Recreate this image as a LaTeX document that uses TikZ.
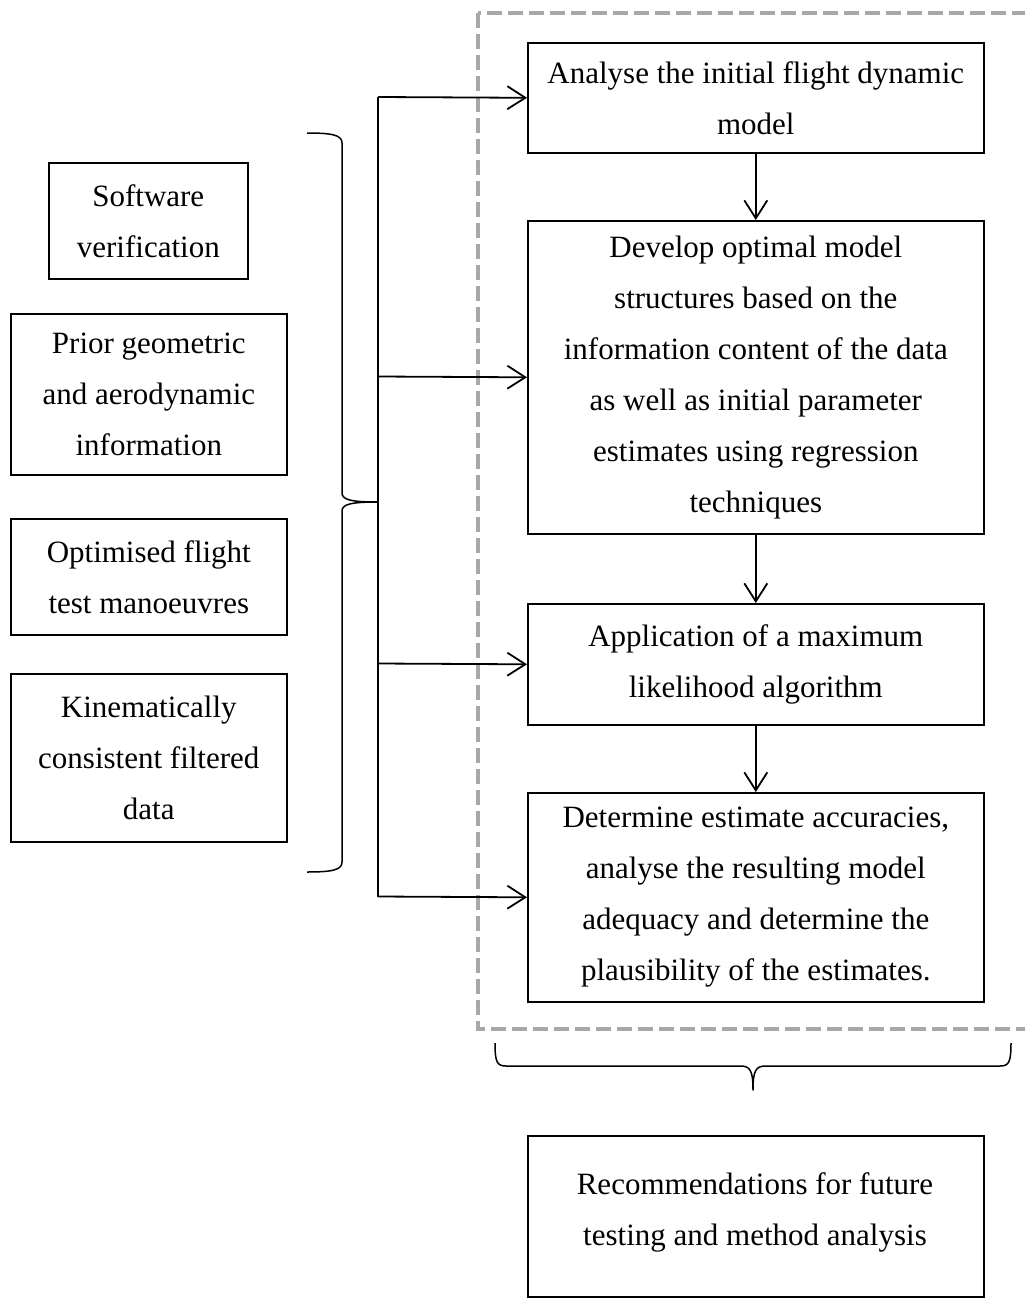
\documentclass[tikz,border=0pt]{standalone}
\usepackage{fontspec}
\setmainfont{Liberation Serif}
\usetikzlibrary{arrows.meta}
\definecolor{dashgray}{HTML}{A8A8A8}
\begin{document}
\begin{tikzpicture}[x=1pt,y=-1pt,
  txt/.style={inner sep=0pt, align=center, font=\fontsize{31}{51}\selectfont},
  box/.style={txt, draw, line width=1.6pt, anchor=north west},
  arr/.style={line width=1.8pt, -{Straight Barb[length=18pt,width=23pt]}},
  plain/.style={line width=1.8pt},
  bracestyle/.style={line width=1.5pt, line join=round}]
\fill[white] (0,0) rectangle (1025,1298);
\useasboundingbox (0,0) rectangle (1025,1298);

% dashed frame
\draw[dashgray, line width=4pt, dash pattern=on 15pt off 6pt] (478,13) rectangle (1028,1029);

% left boxes
\node[box, minimum width=199pt, minimum height=116pt] (sw) at (48,162) {Software\\verification};
\node[box, minimum width=276pt, minimum height=161pt] (prior) at (10,313) {Prior geometric\\and aerodynamic\\information};
\node[box, minimum width=276pt, minimum height=116pt] (opt) at (10,518) {Optimised flight\\test manoeuvres};
\node[box, minimum width=276pt, minimum height=168pt] (kin) at (10,673) {Kinematically\\consistent filtered\\data};

% right boxes
\node[box, minimum width=456pt, minimum height=110pt] (b1) at (527,42) {Analyse the initial flight dynamic\\model};
\node[box, minimum width=456pt, minimum height=313pt] (b2) at (527,220) {Develop optimal model\\structures based on the\\information content of the data\\as well as initial parameter\\estimates using regression\\techniques};
\node[box, minimum width=456pt, minimum height=121pt] (b3) at (527,603) {Application of a maximum\\likelihood algorithm};
\node[box, minimum width=456pt, minimum height=209pt] (b4) at (527,792) {Determine estimate accuracies,\\analyse the resulting model\\adequacy and determine the\\plausibility of the estimates.};
\node[box, minimum width=456pt, minimum height=161pt] (rec) at (527,1135) {};
\node[txt, anchor=north] (rectext) at (755,1172) {Recommendations for future\\testing and method analysis};

% vertical arrows
\draw[arr] (b1) -- (b2);
\draw[arr] (b2) -- (b3);
\draw[arr] (b3) -- (b4);

% distribution line
\coordinate (v1) at (378,97);
\coordinate (v2) at (378,376.5);
\coordinate (v3) at (378,663.5);
\coordinate (v4) at (378,896.5);
\draw[plain] (v1) -- (v4);
\draw[arr] (v1) -- (b1.west);
\draw[arr] (v2) -- (b2.west);
\draw[arr] (v3) -- (b3.west);
\draw[arr] (v4) -- (b4.west);

% left brace
\coordinate (btip) at (378,502);
\draw[bracestyle] (307,133) .. controls (332,133) and (342,135) .. (342,143)
  -- (342,493) .. controls (342,500) and (352,502) .. (btip)
  .. controls (352,502) and (342,504) .. (342,511)
  -- (342,862) .. controls (342,870) and (332,872) .. (307,872);

% bottom brace
\coordinate (ctip) at (753,1090);
\draw[bracestyle] (495,1043) .. controls (495,1062) and (497,1066) .. (506,1066)
  -- (740,1066) .. controls (750,1066) and (753,1070) .. (ctip)
  .. controls (753,1070) and (756,1066) .. (766,1066)
  -- (1000,1066) .. controls (1009,1066) and (1011,1062) .. (1011,1043);
\end{tikzpicture}
\end{document}
